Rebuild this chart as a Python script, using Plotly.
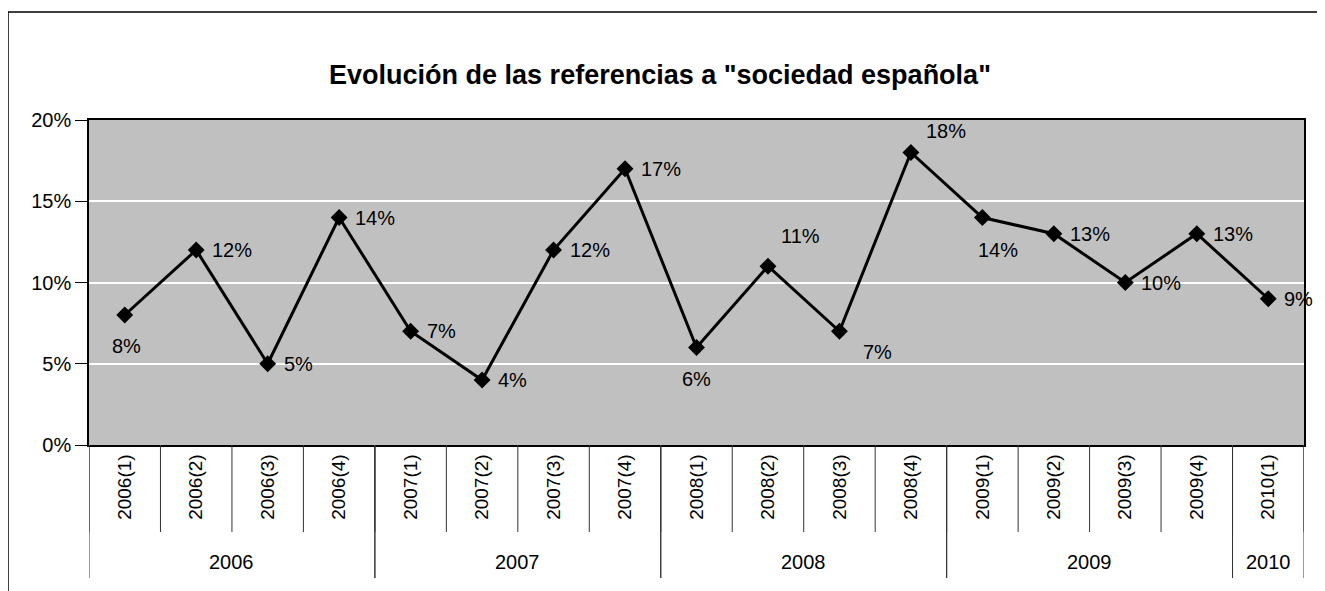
import plotly.graph_objects as go

years = ["2006"] * 4 + ["2007"] * 4 + ["2008"] * 4 + ["2009"] * 4 + ["2010"]
quarters = ["2006(1)", "2006(2)", "2006(3)", "2006(4)",
            "2007(1)", "2007(2)", "2007(3)", "2007(4)",
            "2008(1)", "2008(2)", "2008(3)", "2008(4)",
            "2009(1)", "2009(2)", "2009(3)", "2009(4)",
            "2010(1)"]
values = [8, 12, 5, 14, 7, 4, 12, 17, 6, 11, 7, 18, 14, 13, 10, 13, 9]

# label placement (pixel offsets from the point, and anchor)
label_dx = [2, 14, 14, 14, 14, 14, 14, 14, 0, 33, 38, 35, 16, 14, 14, 14, 14]
label_dy = [-31, 0, 0, 0, 0, 0, 0, 0, -31, 30, -21, 22, -32, 0, 0, 0, 0]
label_anchor = ["center", "left", "left", "left", "left", "left", "left", "left",
                "center", "center", "center", "center", "center",
                "left", "left", "left", "left"]

OFF = 8  # page body margin
W, H = 1325 - OFF, 591 - OFF
L, T = 89 - OFF, 120 - OFF
R = W - (1304 - OFF)
B = H - (445 - OFF)
pw, ph = W - L - R, H - T - B
FONT = "Liberation Sans, Arial, sans-serif"
SEP = "#333333"

fig = go.Figure()
fig.add_trace(go.Scatter(
    x=quarters,
    y=[v / 100 for v in values],
    mode="lines+markers",
    line=dict(color="black", width=3),
    marker=dict(symbol="diamond", size=13, color="black"),
    cliponaxis=False,
    showlegend=False,
))

for i, v in enumerate(values):
    fig.add_annotation(x=i, y=v / 100, xref="x", yref="y",
                       text=f"{v}%", showarrow=False,
                       xanchor=label_anchor[i], yanchor="middle",
                       xshift=label_dx[i], yshift=label_dy[i],
                       font=dict(family=FONT, size=20, color="black"))

# inner category separators (from axis down)
for i in range(len(quarters) + 1):
    fig.add_shape(type="line", xref="x", yref="paper",
                  x0=i - 0.5, x1=i - 0.5, y0=0, y1=-87 / ph,
                  line=dict(color=SEP, width=1))

# year groups: labels and long dividers
groups = []
for i, y in enumerate(years):
    if groups and groups[-1][0] == y:
        groups[-1][2] = i
    else:
        groups.append([y, i, i])
y_label = -(554 - (T + ph)) / ph
y_div = -(570 - (T + ph)) / ph
for name, i0, i1 in groups:
    fig.add_annotation(x=(i0 + i1) / 2, y=y_label, xref="x", yref="paper",
                       text=name, showarrow=False, yanchor="middle",
                       font=dict(family=FONT, size=20, color="black"))
    for xb in (i0 - 0.5, i1 + 0.5):
        fig.add_shape(type="line", xref="x", yref="paper",
                      x0=xb, x1=xb, y0=0, y1=y_div,
                      line=dict(color=SEP, width=1))

# outer frame
fig.add_shape(type="rect", xref="paper", yref="paper",
              x0=(0 - L) / pw, x1=(1310 - L) / pw,
              y0=-(H + 20 - T - ph) / ph, y1=(T + ph - 4) / ph,
              line=dict(color="black", width=1.5), fillcolor="rgba(0,0,0,0)",
              layer="below")

fig.update_layout(
    width=W, height=H,
    margin=dict(l=L, r=R, t=T, b=B, autoexpand=False),
    paper_bgcolor="white",
    plot_bgcolor="#C0C0C0",
    font=dict(family=FONT, size=20, color="black"),
    title=dict(text='<b>Evolución de las referencias a "sociedad española"</b>',
               x=652 / W, xanchor="center", y=1 - 67 / H, yanchor="middle",
               font=dict(size=27)),
)
fig.update_yaxes(range=[0, 0.2], tickvals=[0, 0.05, 0.1, 0.15, 0.2],
                 ticktext=["0%", "5%", "10%", "15%", "20%"],
                 showgrid=True, gridcolor="white", gridwidth=1.5,
                 ticks="outside", ticklen=12, tickcolor="black",
                 showline=True, linecolor="black", linewidth=1.5, mirror=True,
                 zeroline=False)
fig.update_xaxes(type="category", tickangle=-90, range=[-0.5, 16.5],
                 tickfont=dict(size=19),
                 ticks="", showgrid=False,
                 showline=True, linecolor="black", linewidth=1.5, mirror=True)

fig.write_html("out.html")
